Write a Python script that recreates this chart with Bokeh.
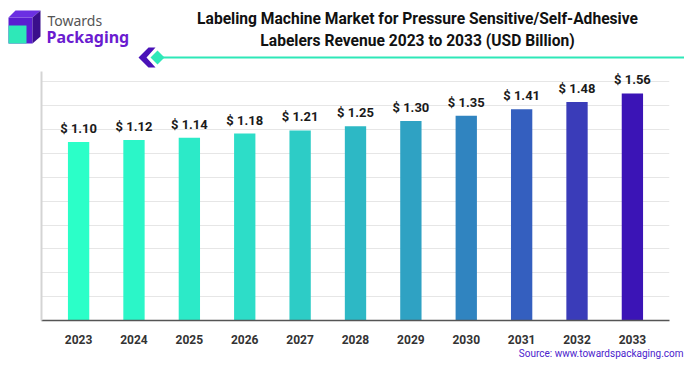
from bokeh.plotting import figure
from bokeh.models import Range1d, FactorRange, FixedTicker, ColumnDataSource
from bokeh.layouts import column, row
from bokeh.embed import file_html
from bokeh.resources import INLINE
from bokeh.core.properties import value
import numpy as np

# ---------------- data ----------------
years = ["2023", "2024", "2025", "2026", "2027", "2028", "2029", "2030", "2031", "2032", "2033"]
revenue = [1.10, 1.12, 1.14, 1.18, 1.21, 1.25, 1.30, 1.35, 1.41, 1.48, 1.56]
bar_labels = ["$ %.2f" % v for v in revenue]
bar_colors = ["#2BFFC8", "#2BF6C8", "#2CEAC8", "#2DDDC8", "#2DCCC6", "#2DB8C5",
              "#2FA2C3", "#3084C0", "#345FBF", "#3A3CB9", "#3B14B6"]
title_lines = ["Labeling Machine Market for Pressure Sensitive/Self-Adhesive",
               "Labelers Revenue 2023 to 2033 (USD Billion)"]
source_text = "Source: www.towardspackaging.com"
brand_top = "Towards"
brand_bottom = "Packaging"

# ---------------- layout constants ----------------
W = 684
HEAD_H = 70
CHART_H = 276
FOOT_H = 14
AXIS_MIN = -0.59
AXIS_MAX = 1.768
GRID_STEP = 0.226
FONT = "Roboto"


def bare(fig):
    fig.grid.visible = False
    fig.outline_line_color = None
    return fig


# ---------------- header (logo + title) ----------------
h = bare(figure(width=W, height=HEAD_H, x_range=Range1d(0, W), y_range=Range1d(HEAD_H, 0),
                output_backend="svg", toolbar_location=None, min_border=0, title=None,
                x_axis_location=None, y_axis_location=None))

# logo cube
h.patches(xs=[[8, 32, 32, 8], [8, 15, 40, 32], [32, 40, 40, 32], [8, 26, 26, 8]],
          ys=[[17, 17, 43, 43], [17, 10, 10, 17], [17, 10, 36, 43], [25, 25, 43, 43]],
          fill_color=["#5A1DD0", "#6B2FE2", "#3A0E8C", "#2EE8B8"], line_color=None)
h.text(x=[47], y=[20], text=[brand_top], text_font=value("Noto Sans"), text_font_size="14px",
       text_color="#555555", text_baseline="middle", text_align="left")
h.text(x=[46], y=[36], text=[brand_bottom], text_font=value("Noto Sans"), text_font_size="16px",
       text_font_style="bold", text_color="#6A1BD0", text_baseline="middle", text_align="left")

# title
h.text(x=[417, 417], y=[18, 40], text=title_lines, text_font=value(FONT), text_font_size="15.6px",
       text_font_style="bold", text_color="#111111", text_baseline="middle", text_align="center")

# decorative rule
h.segment(x0=[160], y0=[57], x1=[W], y1=[57], line_color="#2EE8B8", line_width=2)
h.patches(xs=[[148, 138, 148, 155, 146, 155]], ys=[[47, 57, 67, 67, 57, 47]],
          fill_color="#4A12B8", line_color=None)
h.patches(xs=[[157, 164, 157, 150]], ys=[[50, 57, 64, 57]], fill_color="#2EE8B8", line_color=None)

# ---------------- chart ----------------
src = ColumnDataSource(dict(year=years, revenue=revenue, label=bar_labels, color=bar_colors))

p = figure(width=W, height=CHART_H, title=None,
           x_range=FactorRange(*years, range_padding=0.17, range_padding_units="absolute"),
           y_range=Range1d(AXIS_MIN, AXIS_MAX),
           output_backend="svg", toolbar_location=None,
           min_border_left=41, min_border_right=15, min_border_top=1, min_border_bottom=23)
p.outline_line_color = None

p.vbar(x="year", top="revenue", bottom=AXIS_MIN, width=0.385, fill_color="color",
       line_color=None, source=src)
p.text(x="year", y="revenue", text="label", y_offset=-6, text_baseline="bottom",
       text_align="center", text_font=value(FONT), text_font_size="13px",
       text_font_style="bold", text_color="#1A1A1A", source=src)

p.xgrid.grid_line_color = None
p.ygrid.ticker = FixedTicker(ticks=list(AXIS_MIN + GRID_STEP * np.arange(1, 11)))
p.ygrid.grid_line_color = "#E6E6E6"
p.ygrid.grid_line_width = 1

p.yaxis.ticker = FixedTicker(ticks=[])
p.yaxis.axis_line_color = "#D4D4D4"
p.yaxis.axis_line_width = 2
p.yaxis.major_tick_line_color = None
p.yaxis.minor_tick_line_color = None

p.xaxis.axis_line_color = "#555555"
p.xaxis.axis_line_width = 1.5
p.xaxis.major_tick_line_color = None
p.xaxis.minor_tick_line_color = None
p.xaxis.major_label_standoff = 8
p.xaxis.major_label_text_font = FONT
p.xaxis.major_label_text_font_size = "12px"
p.xaxis.major_label_text_font_style = "bold"
p.xaxis.major_label_text_color = "#333333"

# ---------------- footer (source) ----------------
s = bare(figure(width=W, height=FOOT_H, x_range=Range1d(0, W), y_range=Range1d(FOOT_H, 0),
                output_backend="svg", toolbar_location=None, min_border=0, title=None,
                x_axis_location=None, y_axis_location=None))
s.text(x=[683], y=[7], text=[source_text], text_font=value(FONT), text_font_size="10px",
       text_color="#4B22CC", text_baseline="middle", text_align="right")

layout = column(row(h), p, row(s), spacing=0)
open("out.html", "w").write(file_html(layout, INLINE))
